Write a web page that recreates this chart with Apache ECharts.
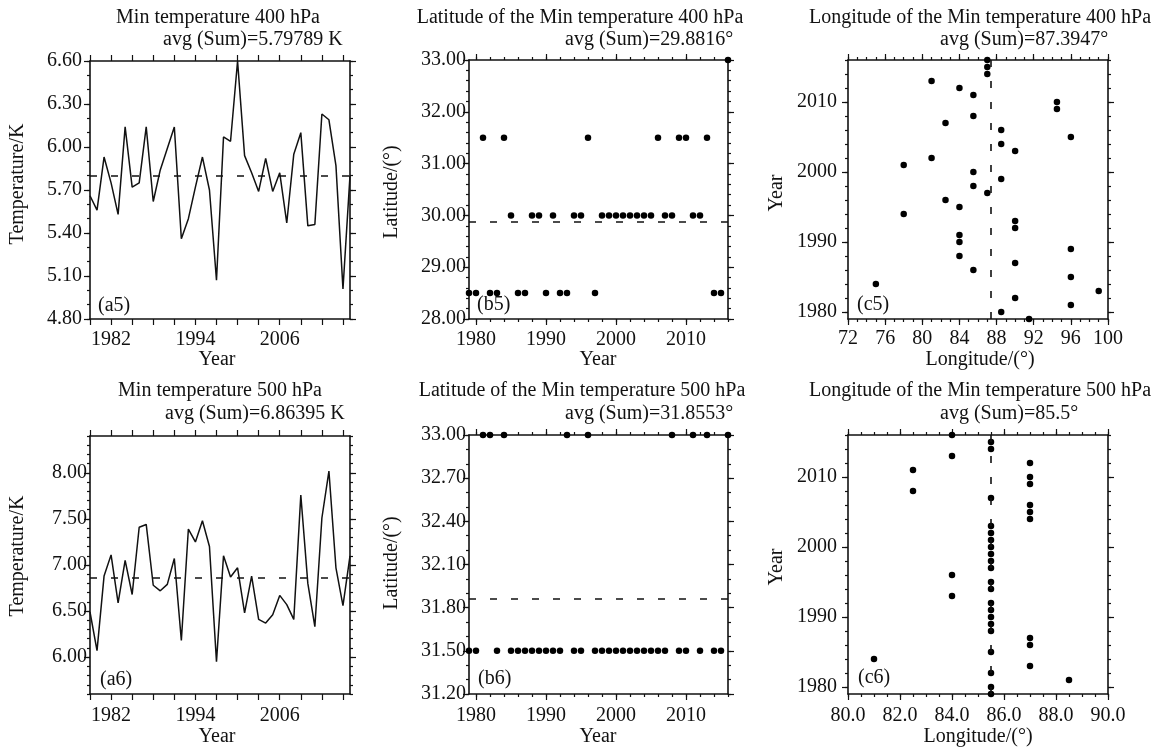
<!DOCTYPE html>
<html>
<head>
<meta charset="utf-8">
<title>Min temperature 400 / 500 hPa</title>
<script src="https://cdn.jsdelivr.net/npm/echarts@6/dist/echarts.min.js"></script>
<style>
html, body { margin: 0; padding: 0; background: #fff; }
#main { width: 1161px; height: 747px; }
</style>
</head>
<body>
<div id="main"></div>
<script>
var years = [1979,1980,1981,1982,1983,1984,1985,1986,1987,1988,1989,1990,1991,1992,1993,1994,1995,1996,1997,1998,
             1999,2000,2001,2002,2003,2004,2005,2006,2007,2008,2009,2010,2011,2012,2013,2014,2015,2016];

// (a5) / (a6) min temperature, K
var temp400 = [5.66,5.56,5.93,5.75,5.53,6.14,5.72,5.75,6.14,5.62,5.84,5.99,6.14,5.36,5.50,5.72,5.93,5.70,5.07,6.07,
               6.04,6.60,5.94,5.82,5.69,5.92,5.69,5.82,5.47,5.95,6.10,5.45,5.46,6.23,6.19,5.87,5.01,5.80];
var temp500 = [6.49,6.07,6.88,7.11,6.59,7.05,6.68,7.41,7.44,6.78,6.72,6.79,7.07,6.18,7.39,7.25,7.48,7.20,5.95,7.10,
               6.87,6.97,6.48,6.88,6.41,6.37,6.46,6.67,6.57,6.41,7.76,6.80,6.33,7.51,8.02,6.97,6.56,7.10];

// (b5) / (b6) latitude of the minimum
var lat400 = [28.5,28.5,31.5,28.5,28.5,31.5,30,28.5,28.5,30,30,28.5,30,28.5,28.5,30,30,31.5,28.5,30,
              30,30,30,30,30,30,30,31.5,30,30,31.5,31.5,30,30,31.5,28.5,28.5,33];
var lat500 = [31.5,31.5,33,33,31.5,33,31.5,31.5,31.5,31.5,31.5,31.5,31.5,31.5,33,31.5,31.5,33,31.5,31.5,
              31.5,31.5,31.5,31.5,31.5,31.5,31.5,31.5,31.5,33,31.5,31.5,33,31.5,33,31.5,31.5,33];

// (c5) / (c6) longitude of the minimum
var lon400 = [91.5,88.5,96,90,99,75,96,85.5,90,84,96,84,84,90,90,78,84,82.5,87,85.5,
              88.5,85.5,78,81,90,88.5,96,88.5,82.5,85.5,94.5,94.5,85.5,84,81,87,87,87];
var lon500 = [85.5,85.5,88.5,85.5,87,81,85.5,87,87,85.5,85.5,85.5,85.5,85.5,84,85.5,85.5,84,85.5,85.5,
              85.5,85.5,85.5,85.5,85.5,87,87,87,85.5,82.5,87,87,82.5,87,84,85.5,85.5,84];

var avgTemp400 = 5.79789, avgTemp500 = 6.86395;
var avgLat400 = 29.8816, avgLat500 = 31.8553;
var avgLon400 = 87.3947, avgLon500 = 85.5;

// tick labels
var yearLabelsA = [1982, 1994, 2006];
var yearLabelsB = [1980, 1990, 2000, 2010];
var tempLabels400 = [4.8, 5.1, 5.4, 5.7, 6.0, 6.3, 6.6];
var tempLabels500 = [6.0, 6.5, 7.0, 7.5, 8.0];
var latLabels400 = [28, 29, 30, 31, 32, 33];
var latLabels500 = [31.2, 31.5, 31.8, 32.1, 32.4, 32.7, 33.0];
var lonLabels400 = [72, 76, 80, 84, 88, 92, 96, 100];
var lonLabels500 = [80, 82, 84, 86, 88, 90];

var FONT = '"Liberation Serif", "Times New Roman", serif';
var FSIZE = 20;
var INK = '#111';

function steps(a, b, s) {
    var out = [];
    for (var i = 0; a + i * s <= b + 1e-9; i++) out.push(+(a + i * s).toFixed(4));
    return out;
}
function pairs(xs, ys) {
    return xs.map(function (x, i) { return [x, ys[i]]; });
}
function fixed(n) {
    return function (v) { return (+v).toFixed(n); };
}

var panels = [
    { rect: [90, 61, 260, 258], x: [1979, 2016, steps(1979, 2015, 3), null, yearLabelsA, fixed(0)],
      y: [4.8, 6.6, tempLabels400, steps(4.8, 6.6, 0.1), tempLabels400, fixed(2)], yMargin: 8, xMargin: 11 },
    { rect: [469, 60, 259, 259], x: [1979, 2016, yearLabelsB, steps(1980, 2016, 2), yearLabelsB, fixed(0)],
      y: [28, 33, latLabels400, steps(28, 33, 0.2), latLabels400, fixed(2)], yMargin: 3, xMargin: 11 },
    { rect: [848, 60, 260, 259], x: [72, 100, lonLabels400, steps(72, 100, 1), lonLabels400, fixed(0)],
      y: [1979, 2016, yearLabelsB, steps(1980, 2016, 2), yearLabelsB, fixed(0)], yMargin: 11, xMargin: 10 },
    { rect: [90, 436, 260, 258], x: [1979, 2016, steps(1979, 2015, 3), null, yearLabelsA, fixed(0)],
      y: [5.6, 8.4, tempLabels500, steps(5.6, 8.4, 0.1), tempLabels500, fixed(2)], yMargin: 3, xMargin: 12 },
    { rect: [469, 435, 259, 259], x: [1979, 2016, yearLabelsB, steps(1980, 2016, 2), yearLabelsB, fixed(0)],
      y: [31.2, 33, latLabels500, steps(31.2, 33, 0.1), latLabels500, fixed(2)], yMargin: 3, xMargin: 12 },
    { rect: [848, 435, 260, 259], x: [80, 90, lonLabels500, steps(80, 90, 0.5), lonLabels500, fixed(1)],
      y: [1979, 2016, yearLabelsB, steps(1980, 2016, 2), yearLabelsB, fixed(0)], yMargin: 11, xMargin: 12 }
];

var grids = [], xAxes = [], yAxes = [];

// every panel gets four axes per direction: labelled + mirrored, major + minor ticks
function makeAxis(gi, def, pos, major, labelled, margin) {
    var ax = {
        type: 'value', gridIndex: gi, position: pos, min: def[0], max: def[1],
        splitLine: { show: false },
        axisLine: { show: major, lineStyle: { color: INK, width: 1.6 } },
        axisTick: { show: true, inside: false, length: major ? 6 : 3,
                    customValues: major ? def[2] : (def[3] || []),
                    lineStyle: { color: INK, width: 1.2 } },
        axisLabel: { show: labelled, customValues: def[4], formatter: def[5], margin: margin,
                     color: INK, fontFamily: FONT, fontSize: FSIZE }
    };
    if (!major && !def[3]) ax.axisTick.show = false;
    return ax;
}

panels.forEach(function (p, i) {
    grids.push({ left: p.rect[0], top: p.rect[1], width: p.rect[2], height: p.rect[3], containLabel: false });
    xAxes.push(makeAxis(i, p.x, 'bottom', true, true, p.xMargin));
    xAxes.push(makeAxis(i, p.x, 'bottom', false, false, 0));
    xAxes.push(makeAxis(i, p.x, 'top', true, false, 0));
    xAxes.push(makeAxis(i, p.x, 'top', false, false, 0));
    yAxes.push(makeAxis(i, p.y, 'left', true, true, p.yMargin));
    yAxes.push(makeAxis(i, p.y, 'left', false, false, 0));
    yAxes.push(makeAxis(i, p.y, 'right', true, false, 0));
    yAxes.push(makeAxis(i, p.y, 'right', false, false, 0));
});

function avgLine(key, v) {
    var d = {};
    d[key] = v;
    return {
        silent: true, symbol: ['none', 'none'], label: { show: false },
        lineStyle: { color: INK, width: 1.6, type: [7, 14], opacity: 1 },
        data: [d]
    };
}
function lineSeries(i, data, avg) {
    return { type: 'line', xAxisIndex: 4 * i, yAxisIndex: 4 * i, data: data, symbol: 'none',
             lineStyle: { color: INK, width: 1.5 }, markLine: avgLine('yAxis', avg) };
}
function dotSeries(i, data, key, avg) {
    return { type: 'scatter', xAxisIndex: 4 * i, yAxisIndex: 4 * i, data: data, clip: false,
             symbolSize: 6.5, itemStyle: { color: '#000', opacity: 1 }, markLine: avgLine(key, avg) };
}

var series = [
    lineSeries(0, pairs(years, temp400), avgTemp400),
    dotSeries(1, pairs(years, lat400), 'yAxis', avgLat400),
    dotSeries(2, pairs(lon400, years), 'xAxis', avgLon400),
    lineSeries(3, pairs(years, temp500), avgTemp500),
    dotSeries(4, pairs(years, lat500), 'yAxis', avgLat500),
    dotSeries(5, pairs(lon500, years), 'xAxis', avgLon500)
];

function txt(x, y, s, align, rot) {
    return {
        type: 'text', x: x, y: y, rotation: rot || 0, z: 100,
        style: { text: s, fill: INK, font: FSIZE + 'px ' + FONT,
                 align: align, textAlign: align, verticalAlign: 'middle', textVerticalAlign: 'middle' }
    };
}
var UP = Math.PI / 2;
var texts = [
    txt(218, 18, 'Min temperature 400 hPa', 'center'),
    txt(163, 40, 'avg (Sum)=5.79789 K', 'left'),
    txt(580, 18, 'Latitude of the Min temperature 400 hPa', 'center'),
    txt(565, 40, 'avg (Sum)=29.8816°', 'left'),
    txt(980, 18, 'Longitude of the Min temperature 400 hPa', 'center'),
    txt(940, 40, 'avg (Sum)=87.3947°', 'left'),
    txt(220, 391, 'Min temperature 500 hPa', 'center'),
    txt(165, 414, 'avg (Sum)=6.86395 K', 'left'),
    txt(582, 391, 'Latitude of the Min temperature 500 hPa', 'center'),
    txt(565, 414, 'avg (Sum)=31.8553°', 'left'),
    txt(980, 391, 'Longitude of the Min temperature 500 hPa', 'center'),
    txt(940, 414, 'avg (Sum)=85.5°', 'left'),

    txt(217, 360, 'Year', 'center'),
    txt(598, 360, 'Year', 'center'),
    txt(980, 360, 'Longitude/(°)', 'center'),
    txt(217, 737, 'Year', 'center'),
    txt(598, 737, 'Year', 'center'),
    txt(978, 737, 'Longitude/(°)', 'center'),
    txt(18, 184, 'Temperature/K', 'center', UP),
    txt(392, 192, 'Latitude/(°)', 'center', UP),
    txt(777, 193, 'Year', 'center', UP),
    txt(18, 556, 'Temperature/K', 'center', UP),
    txt(392, 563, 'Latitude/(°)', 'center', UP),
    txt(777, 567, 'Year', 'center', UP),

    txt(98, 306, '(a5)', 'left'),
    txt(477, 305, '(b5)', 'left'),
    txt(857, 305, '(c5)', 'left'),
    txt(100, 680, '(a6)', 'left'),
    txt(478, 679, '(b6)', 'left'),
    txt(858, 678, '(c6)', 'left')
];

var option = {
    backgroundColor: '#fff',
    animation: false,
    grid: grids,
    xAxis: xAxes,
    yAxis: yAxes,
    series: series,
    graphic: { elements: texts }
};

var myChart = echarts.init(document.getElementById('main'));
myChart.setOption(option);
</script>
</body>
</html>
